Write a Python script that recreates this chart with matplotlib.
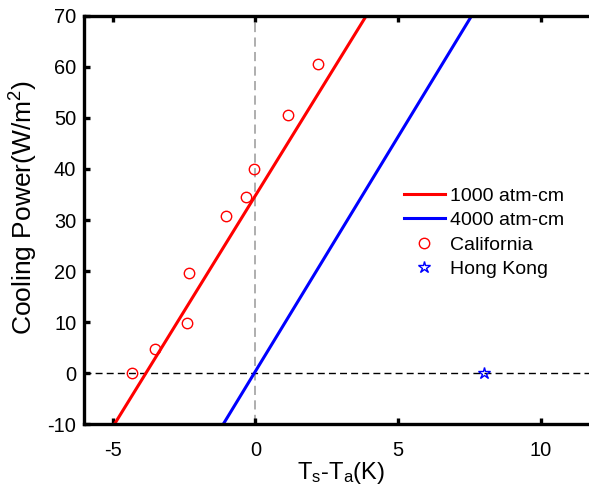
import numpy as np
import matplotlib
matplotlib.use('Agg')
import matplotlib.pyplot as plt

plt.rcParams['font.family'] = ['Liberation Sans', 'DejaVu Sans']
plt.rcParams['mathtext.fontset'] = 'custom'
plt.rcParams['mathtext.rm'] = 'Liberation Sans'
plt.rcParams['mathtext.it'] = 'Liberation Sans'
plt.rcParams['axes.unicode_minus'] = False

# fitted lines (end points at the plot edges)
line_1000_x = [-4.93, 3.88]
line_1000_y = [-10, 70]
line_4000_x = [-1.12, 7.57]
line_4000_y = [-10, 70]

# measurements
cal_dT = [-4.31, -3.50, -2.39, -2.32, -1.02, -0.33, -0.05, 1.16, 2.18]
cal_P = [0.0, 4.8, 9.8, 19.6, 30.8, 34.6, 40.0, 50.5, 60.6]
hk_dT = [8.0]
hk_P = [0.0]

xticks = [-5, 0, 5, 10]
yticks = [-10, 0, 10, 20, 30, 40, 50, 60, 70]

fig = plt.figure(figsize=(5.89, 4.95), dpi=100)
ax = fig.add_axes([0.1426, 0.1434, 0.8727, 0.8243])

ax.axvline(0, color='#999999', ls='--', lw=1.1, dashes=(6, 3.5), zorder=1)
ax.axhline(0, color='black', ls='--', lw=1.0, dashes=(5, 3), zorder=1)

ax.plot(line_1000_x, line_1000_y, color='red', lw=2.2, label='1000 atm-cm')
ax.plot(line_4000_x, line_4000_y, color='blue', lw=2.2, label='4000 atm-cm')
ax.plot(cal_dT, cal_P, 'o', mfc='none', mec='red', ms=7.5, mew=1.0,
        ls='none', label='California')
ax.plot(hk_dT, hk_P, '*', mfc='none', mec='blue', ms=9, mew=1.0,
        ls='none', label='Hong Kong')

ax.set_xlim(-6, 12)
ax.set_ylim(-10, 70)
ax.set_xticks(xticks)
ax.set_yticks(yticks)
ax.tick_params(direction='in', width=2.4, length=4.3, labelsize=14.4,
               top=True)
ax.tick_params(axis='x', pad=12)
ax.tick_params(axis='y', pad=5.5)
for s in ['left', 'bottom', 'top']:
    ax.spines[s].set_linewidth(2.4)
ax.spines['right'].set_visible(False)

ax.set_xlabel('T$_\\mathregular{s}$-T$_\\mathregular{a}$(K)', fontsize=17)
ax.set_ylabel('Cooling Power(W/m$^\\mathregular{2}$)', fontsize=19)
ax.xaxis.set_label_coords(0.5, -0.088)
ax.yaxis.set_label_coords(-0.086, 0.53)

ax.legend(loc='center left', bbox_to_anchor=(0.6226, 0.469), frameon=False,
          fontsize=14, handlelength=2.1, handletextpad=0.25,
          labelspacing=0.35, borderpad=0, borderaxespad=0)

fig.savefig('out.png', dpi=100)
